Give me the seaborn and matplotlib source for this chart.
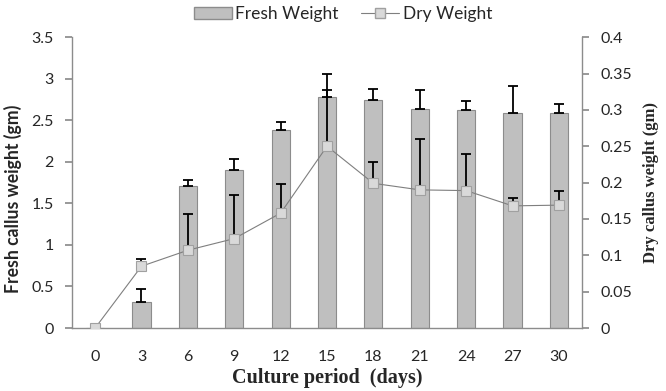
import numpy as np
import pandas as pd
import matplotlib
matplotlib.use("Agg")
import matplotlib.pyplot as plt
import seaborn as sns
from matplotlib.patches import Patch
from matplotlib.lines import Line2D

# culture period (days)
days = ["0", "3", "6", "9", "12", "15", "18", "21", "24", "27", "30"]
fresh_weight = [0.0, 0.31, 1.71, 1.90, 2.38, 2.78, 2.74, 2.64, 2.62, 2.59, 2.59]
fresh_err = [0.0, 0.155, 0.07, 0.13, 0.10, 0.28, 0.14, 0.22, 0.11, 0.32, 0.11]
dry_weight = [0.0, 0.085, 0.107, 0.123, 0.158, 0.25, 0.199, 0.19, 0.189, 0.168, 0.169]
dry_err = [0.0, 0.01, 0.05, 0.06, 0.04, 0.077, 0.03, 0.07, 0.05, 0.011, 0.02]

df = pd.DataFrame({"day": days, "fresh": fresh_weight, "dry": dry_weight})

sns.set_theme(style="white")
tick_font = "Lato"
label_font = "Liberation Serif"

fig, ax = plt.subplots(figsize=(6.66, 3.91), dpi=100)
fig.subplots_adjust(left=0.108, right=0.874, top=0.905, bottom=0.161)

sns.barplot(data=df, x="day", y="fresh", color="#bfbfbf", width=0.39,
            edgecolor="#8c8c8c", linewidth=0.8, saturation=1, ax=ax)
pos = np.arange(len(days))
ax.errorbar(pos, fresh_weight, yerr=[np.zeros(len(days)), fresh_err], fmt="none",
            ecolor="black", elinewidth=1.3, capsize=3.5, capthick=1.3, zorder=3)

ax2 = ax.twinx()
ax2.errorbar(pos, dry_weight, yerr=[np.zeros(len(days)), dry_err], fmt="none",
             ecolor="black", elinewidth=1.3, capsize=3.5, capthick=1.3, zorder=2)
sns.lineplot(x=pos, y=dry_weight, ax=ax2, color="#7f7f7f", linewidth=0.8,
             marker="s", markersize=7, markerfacecolor="#d9d9d9",
             markeredgecolor="#a0a0a0", markeredgewidth=0.8, zorder=4)

ax.set_xlim(-0.5, len(days) - 0.5)
ax.set_ylim(0, 3.5)
ax.set_yticks(np.arange(0, 3.51, 0.5))
ax.set_yticklabels(["0", "0.5", "1", "1.5", "2", "2.5", "3", "3.5"])
ax2.set_ylim(0, 0.4)
ax2.set_yticks(np.arange(0, 0.401, 0.05))
ax2.set_yticklabels(["0", "0.05", "0.1", "0.15", "0.2", "0.25", "0.3", "0.35", "0.4"])

for a in (ax, ax2):
    for s in a.spines.values():
        s.set_color("#8c8c8c")
        s.set_linewidth(1.0)
    a.spines["top"].set_visible(False)
ax.spines["right"].set_visible(False)
ax2.spines["left"].set_visible(False)
ax2.spines["bottom"].set_visible(False)

ax.tick_params(axis="y", left=True, length=5, color="#8c8c8c", labelsize=11.5, pad=8)
ax.tick_params(axis="x", bottom=False, labelsize=11.5, pad=10)
ax2.tick_params(axis="y", right=True, length=5, color="#8c8c8c", labelsize=11.5, pad=8)
for lab in ax.get_xticklabels() + ax.get_yticklabels() + ax2.get_yticklabels():
    lab.set_fontfamily(tick_font)

ax.set_xlabel("Culture period  (days)", fontsize=14.5, fontweight="bold",
              fontfamily=label_font, labelpad=3)
ax.set_ylabel("Fresh callus weight (gm)", fontsize=12.7, fontweight="bold",
              fontfamily=tick_font)
ax.yaxis.set_label_coords(-0.098, 0.443)
ax2.set_ylabel("Dry callus weight (gm)", fontsize=12, fontweight="bold",
               fontfamily=label_font, labelpad=8)

handles = [Patch(facecolor="#bfbfbf", edgecolor="#8c8c8c", label="Fresh Weight"),
           Line2D([0], [0], color="#7f7f7f", lw=0.8, marker="s", markersize=7,
                  markerfacecolor="#d9d9d9", markeredgecolor="#a0a0a0", label="Dry Weight")]
fig.legend(handles=handles, loc="upper center", bbox_to_anchor=(0.515, 1.025), ncol=2,
           frameon=False, prop={"family": tick_font, "size": 12.5},
           handlelength=2.2, handletextpad=0.2, columnspacing=1.3)

fig.savefig("out.png", dpi=100)
